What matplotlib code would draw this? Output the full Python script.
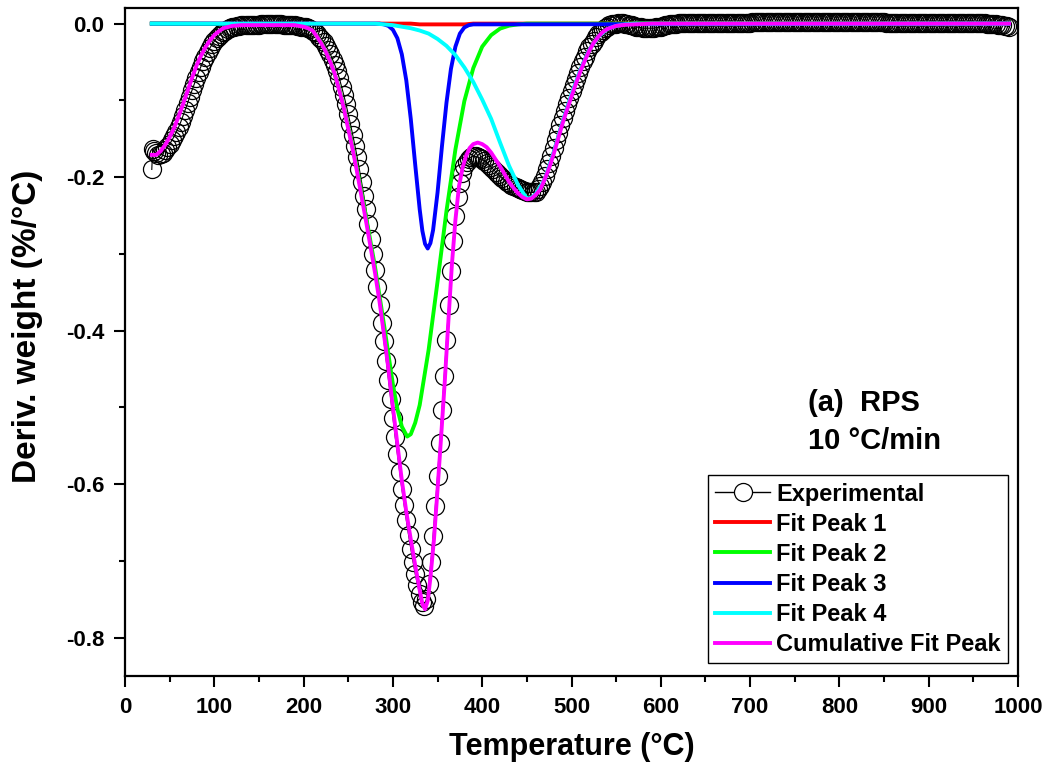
import numpy as np
import matplotlib
matplotlib.use("Agg")
import matplotlib.pyplot as plt
from matplotlib.lines import Line2D
from matplotlib.ticker import MultipleLocator, FormatStrFormatter

plt.rcParams['font.family'] = ['Liberation Sans', 'DejaVu Sans']
plt.rcParams['font.weight'] = 'bold'
plt.rcParams['axes.unicode_minus'] = False

exp_temp = np.concatenate([[30, 31], np.arange(32.5, 990.1, 2.5)])
exp_deriv = np.array([
    -0.190, -0.163,
    # 32.5 - 225
    -0.166, -0.169, -0.171, -0.170, -0.168, -0.165, -0.161, -0.157, -0.152, -0.147,
    -0.141, -0.135, -0.128, -0.120, -0.112, -0.104, -0.095, -0.087, -0.079, -0.071,
    -0.063, -0.056, -0.049, -0.043, -0.037, -0.032, -0.027, -0.023, -0.019, -0.016,
    -0.013, -0.011, -0.009, -0.007, -0.006, -0.005, -0.004, -0.003, -0.003, -0.002,
    -0.002, -0.002, -0.002, -0.002, -0.002, -0.002, -0.002, -0.002, -0.001, -0.001,
    -0.001, -0.001, -0.001, -0.001, -0.001, -0.001, -0.001, -0.001, -0.002, -0.002,
    -0.002, -0.002, -0.002, -0.002, -0.003, -0.003, -0.004, -0.004, -0.005, -0.006,
    -0.007, -0.009, -0.011, -0.014, -0.017, -0.020, -0.024, -0.029,
    # 227.5 - 545
    -0.034, -0.040, -0.047, -0.054, -0.062, -0.071, -0.082, -0.093, -0.105, -0.118,
    -0.131, -0.145, -0.159, -0.174, -0.190, -0.207, -0.224, -0.242, -0.261, -0.280,
    -0.300, -0.321, -0.343, -0.366, -0.390, -0.414, -0.439, -0.464, -0.489, -0.514,
    -0.538, -0.561, -0.584, -0.606, -0.627, -0.647, -0.666, -0.684, -0.701, -0.717,
    -0.731, -0.743, -0.753, -0.759, -0.750, -0.730, -0.702, -0.667, -0.629, -0.589,
    -0.546, -0.503, -0.459, -0.412, -0.366, -0.322, -0.283, -0.251, -0.226, -0.208,
    -0.195, -0.186, -0.180, -0.176, -0.174, -0.173, -0.173, -0.174, -0.175, -0.177,
    -0.179, -0.181, -0.184, -0.187, -0.190, -0.193, -0.196, -0.199, -0.201, -0.204,
    -0.206, -0.208, -0.210, -0.212, -0.213, -0.214, -0.216, -0.217, -0.218, -0.219,
    -0.220, -0.220, -0.220, -0.219, -0.216, -0.212, -0.206, -0.198, -0.190, -0.181,
    -0.172, -0.162, -0.152, -0.142, -0.132, -0.123, -0.114, -0.105, -0.097, -0.088,
    -0.080, -0.072, -0.064, -0.056, -0.049, -0.043, -0.036, -0.031, -0.026, -0.022,
    -0.018, -0.014, -0.011, -0.008, -0.006, -0.004, -0.002, -0.001,
    # 547.5 - 620
    0.000, 0.000, 0.001, 0.001, 0.001, 0.000, -0.001, -0.002, -0.002, -0.003,
    -0.004, -0.005, -0.005, -0.006, -0.006, -0.006, -0.006, -0.006, -0.006, -0.005,
    -0.005, -0.004, -0.003, -0.002, -0.002, -0.001, -0.001, 0.000, 0.000, 0.001,
    # 622.5 - 700
    0.001, 0.001, 0.001, 0.001, 0.001, 0.001, 0.001, 0.001, 0.001, 0.001,
    0.001, 0.001, 0.001, 0.001, 0.001, 0.001, 0.001, 0.001, 0.001, 0.001,
    0.001, 0.001, 0.001, 0.001, 0.001, 0.001, 0.001, 0.001, 0.001, 0.001,
    0.001, 0.001,
    # 702.5 - 850
    0.002, 0.002, 0.002, 0.002, 0.002, 0.002, 0.002, 0.002, 0.002, 0.002,
    0.002, 0.002, 0.002, 0.002, 0.002, 0.002, 0.002, 0.002, 0.002, 0.002,
    0.002, 0.002, 0.002, 0.002, 0.002, 0.002, 0.002, 0.002, 0.002, 0.002,
    0.002, 0.002, 0.002, 0.002, 0.002, 0.002, 0.002, 0.002, 0.002, 0.002,
    0.002, 0.002, 0.002, 0.002, 0.002, 0.002, 0.002, 0.002, 0.002, 0.002,
    0.002, 0.002, 0.002, 0.002, 0.002, 0.002, 0.002, 0.002, 0.002, 0.002,
    # 852.5 - 957.5
    0.001, 0.001, 0.001, 0.001, 0.001, 0.001, 0.001, 0.001, 0.001, 0.001,
    0.001, 0.001, 0.001, 0.001, 0.001, 0.001, 0.001, 0.001, 0.001, 0.001,
    0.001, 0.001, 0.001, 0.001, 0.001, 0.001, 0.001, 0.001, 0.001, 0.001,
    0.001, 0.001, 0.001, 0.001, 0.001, 0.001, 0.001, 0.001, 0.001, 0.001,
    0.001, 0.001, 0.001,
    # 960 - 990
    0.001, 0.001, 0.000, 0.000, -0.001, -0.001, -0.001, -0.002, -0.002, -0.002,
    -0.003, -0.003, -0.004,
])
assert len(exp_temp) == len(exp_deriv), (len(exp_temp), len(exp_deriv))

# Fit peak 1 (red)
p1_temp = [30, 320, 330, 380, 390, 990]
p1_deriv = [0, 0, -0.001, -0.001, 0, 0]

# Fit peak 2 (green)
p2_temp = [30, 180, 190, 200, 210, 220, 230, 240, 250, 260, 270, 280, 290, 300,
           305, 310, 316, 320, 325, 330, 340, 350, 360, 370, 380, 390, 400, 410,
           420, 430, 440, 450, 990]
p2_deriv = [0, -0.001, -0.002, -0.003, -0.009, -0.025, -0.049, -0.085, -0.134,
            -0.190, -0.252, -0.317, -0.392, -0.470, -0.502, -0.525, -0.538, -0.535,
            -0.520, -0.497, -0.425, -0.336, -0.244, -0.164, -0.101, -0.058, -0.030,
            -0.015, -0.0065, -0.0027, -0.001, 0, 0]

# Fit peak 3 (blue)
p3_temp = [30, 285, 290, 295, 300, 305, 310, 315, 320, 325, 330, 333, 336, 339,
           342, 345, 350, 355, 360, 365, 370, 375, 380, 385, 390, 990]
p3_deriv = [0, 0, -0.001, -0.003, -0.008, -0.019, -0.040, -0.074, -0.124, -0.184,
            -0.242, -0.270, -0.287, -0.293, -0.286, -0.269, -0.220, -0.159, -0.103,
            -0.059, -0.030, -0.013, -0.005, -0.002, -0.001, 0]

# Fit peak 4 (cyan)
p4_temp = [30, 280, 290, 300, 310, 320, 330, 340, 350, 360, 370, 380, 390, 400,
           410, 420, 430, 440, 450, 455, 460, 470, 480, 490, 500, 510, 520, 530,
           540, 550, 560, 570, 990]
p4_deriv = [0, 0, -0.001, -0.002, -0.004, -0.006, -0.009, -0.013, -0.020, -0.029,
            -0.041, -0.057, -0.076, -0.099, -0.124, -0.155, -0.185, -0.210, -0.228,
            -0.227, -0.222, -0.203, -0.168, -0.128, -0.092, -0.060, -0.034, -0.017,
            -0.007, -0.003, -0.001, 0, 0]

# Cumulative fit (magenta)
cum_temp = [30, 35, 40, 45, 50, 55, 60, 65, 70, 75, 80, 85, 90, 95, 100, 105, 110,
            120, 130, 140, 150, 160, 170, 180, 190, 200, 205, 210, 215, 220, 225,
            230, 235, 240, 245, 250, 255, 260, 265, 270, 275, 280, 285, 290, 295,
            300, 305, 310, 315, 320, 325, 330, 333, 336, 339, 342, 346, 350, 354,
            358, 362, 366, 370, 374, 378, 382, 386, 390, 395, 400, 405, 410, 415,
            420, 425, 430, 435, 440, 445, 450, 455, 460, 465, 470, 475, 480, 485,
            490, 495, 500, 505, 510, 515, 520, 525, 530, 535, 540, 545, 550, 560,
            570, 580, 590, 700, 800, 900, 990]
cum_deriv = [-0.171, -0.171, -0.166, -0.158, -0.148, -0.136, -0.121, -0.105, -0.088,
             -0.071, -0.055, -0.042, -0.031, -0.022, -0.015, -0.010, -0.006, -0.003,
             -0.002, -0.002, -0.002, -0.002, -0.002, -0.002, -0.002, -0.004, -0.006,
             -0.009, -0.017, -0.026, -0.037, -0.050, -0.066, -0.087, -0.110, -0.137,
             -0.164, -0.194, -0.226, -0.258, -0.291, -0.325, -0.362, -0.405, -0.450,
             -0.500, -0.548, -0.595, -0.636, -0.672, -0.706, -0.738, -0.756, -0.763,
             -0.752, -0.722, -0.672, -0.607, -0.538, -0.468, -0.390, -0.315, -0.256,
             -0.212, -0.188, -0.172, -0.162, -0.157, -0.155, -0.157, -0.161, -0.168,
             -0.177, -0.186, -0.196, -0.206, -0.214, -0.221, -0.226, -0.229, -0.228,
             -0.223, -0.216, -0.203, -0.188, -0.170, -0.150, -0.130, -0.112, -0.095,
             -0.078, -0.062, -0.048, -0.035, -0.025, -0.017, -0.011, -0.007, -0.005,
             -0.003, -0.0015, -0.001, -0.0005, 0, 0, 0, 0, 0]

fig = plt.figure(figsize=(10.51, 7.70), dpi=100)
ax = fig.add_axes([125 / 1051, 94 / 770, 893 / 1051, 668.5 / 770])

lw = 2.8
ax.plot(exp_temp, exp_deriv, color='black', lw=0.8, marker='o', ms=13,
        mfc='none', mec='black', mew=0.9, zorder=2)
ax.plot(p1_temp, p1_deriv, color='#ff0000', lw=lw, zorder=3)
ax.plot(p2_temp, p2_deriv, color='#00ff00', lw=lw, zorder=4)
ax.plot(p3_temp, p3_deriv, color='#0000ff', lw=lw, zorder=5)
ax.plot(p4_temp, p4_deriv, color='#00ffff', lw=lw, zorder=6)
ax.plot(cum_temp, cum_deriv, color='#ff00ff', lw=lw, zorder=7)

ax.set_xlim(0, 1000)
ax.set_ylim(-0.85, 0.021)
ax.xaxis.set_major_locator(MultipleLocator(100))
ax.xaxis.set_minor_locator(MultipleLocator(50))
ax.yaxis.set_major_locator(MultipleLocator(0.2))
ax.yaxis.set_minor_locator(MultipleLocator(0.1))
ax.yaxis.set_major_formatter(FormatStrFormatter('%.1f'))

for s in ax.spines.values():
    s.set_linewidth(1.6)
ax.tick_params(which='both', direction='out', top=False, right=False, width=1.5)
ax.tick_params(which='major', length=8, labelsize=16)
ax.tick_params(axis='x', which='major', pad=7)
ax.tick_params(axis='y', which='major', pad=7)
ax.tick_params(which='minor', length=4)

fig.text(571.5 / 1051, 1 - 755 / 770, 'Temperature (°C)', fontsize=22,
         fontweight='bold', ha='center', va='baseline')
fig.text(27.5 / 1051, 1 - 326.5 / 770, 'Deriv. weight (%/°C)', fontsize=24,
         fontweight='bold', ha='center', va='center', rotation=90)

ax.text(0.765, 0.3964, '(a)  RPS', transform=ax.transAxes, fontsize=21,
        fontweight='bold', ha='left', va='baseline')
ax.text(0.765, 0.3396, '10 °C/min', transform=ax.transAxes, fontsize=21,
        fontweight='bold', ha='left', va='baseline')

handles = [
    Line2D([], [], color='black', lw=1, marker='o', ms=13, mfc='white', mec='black', mew=0.9),
    Line2D([], [], color='#ff0000', lw=lw),
    Line2D([], [], color='#00ff00', lw=lw),
    Line2D([], [], color='#0000ff', lw=lw),
    Line2D([], [], color='#00ffff', lw=lw),
    Line2D([], [], color='#ff00ff', lw=lw),
]
labels = ['Experimental', 'Fit Peak 1', 'Fit Peak 2', 'Fit Peak 3', 'Fit Peak 4',
          'Cumulative Fit Peak']
leg = ax.legend(handles, labels, loc='lower right', bbox_to_anchor=(0.9888, 0.0194),
                borderaxespad=0, fontsize=17, frameon=True, fancybox=False,
                edgecolor='black', framealpha=1, borderpad=0.3, handlelength=2.35,
                handletextpad=0.25, labelspacing=0.3)
leg.get_frame().set_linewidth(1.0)
leg.set_zorder(10)

fig.savefig('out.png', dpi=100)
